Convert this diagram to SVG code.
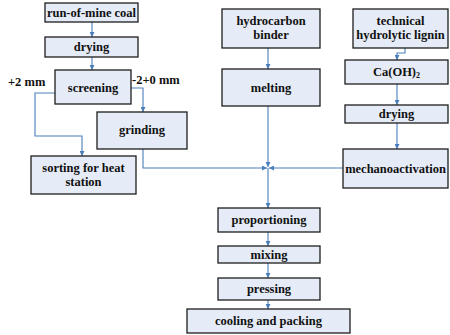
<svg xmlns="http://www.w3.org/2000/svg" width="450" height="335" viewBox="0 0 450 335">
  <defs>
    <marker id="arr" viewBox="0 0 6 6" refX="6" refY="3" markerWidth="5" markerHeight="5" orient="auto" markerUnits="userSpaceOnUse">
      <path d="M0,0 L6,3 L0,6 Z" fill="#4a7ebb"/>
    </marker>
  </defs>
  <style>
    .box { fill: #e6ecf7; stroke: #1e1e1e; stroke-width: 1.3; }
    text { font-family: 'Liberation Serif', 'DejaVu Serif', serif; font-weight: bold; font-size: 12.5px; fill: #111; dominant-baseline: central; }
    .t { text-anchor: middle; }
    .c { fill: none; stroke: #4a7ebb; stroke-width: 1.1; }
  </style>
  <rect width="450" height="335" fill="#ffffff"/>

  <g id="connectors">
    <path class="c" d="M92,22 V37" marker-end="url(#arr)"/>
    <path class="c" d="M92,57 V70" marker-end="url(#arr)"/>
    <path class="c" d="M131,88 H143 V112" marker-end="url(#arr)"/>
    <path class="c" d="M55,93 H35 V136 H82 V156" marker-end="url(#arr)"/>
    <path class="c" d="M143,149 V168 H267" marker-end="url(#arr)"/>
    <path class="c" d="M268,48 V69" marker-end="url(#arr)"/>
    <path class="c" d="M268,106 V167" marker-end="url(#arr)"/>
    <path class="c" d="M343,168 H269" marker-end="url(#arr)"/>
    <path class="c" d="M268,168 V208" marker-end="url(#arr)"/>
    <path class="c" d="M405,48 V53 H397 V60" marker-end="url(#arr)"/>
    <path class="c" d="M397,84 V105" marker-end="url(#arr)"/>
    <path class="c" d="M397,123 V149" marker-end="url(#arr)"/>
    <path class="c" d="M268,232 V246" marker-end="url(#arr)"/>
    <path class="c" d="M268,263 V278" marker-end="url(#arr)"/>
    <path class="c" d="M268,300 V309" marker-end="url(#arr)"/>
  </g>

  <g id="run-of-mine-coal">
    <rect class="box" x="45" y="3" width="93" height="19"/>
    <text class="t" x="91.5" y="13">run-of-mine coal</text>
  </g>
  <g id="drying-coal">
    <rect class="box" x="45" y="37" width="93" height="20"/>
    <text class="t" x="91.5" y="47">drying</text>
  </g>
  <g id="screening">
    <rect class="box" x="55" y="70" width="76" height="34"/>
    <text class="t" x="93" y="88">screening</text>
  </g>
  <g id="grinding">
    <rect class="box" x="97" y="112" width="90" height="37"/>
    <text class="t" x="142" y="130">grinding</text>
  </g>
  <g id="sorting">
    <rect class="box" x="31" y="156" width="105" height="38"/>
    <text class="t" x="83.5" y="168">sorting for heat</text>
    <text class="t" x="83.5" y="182">station</text>
  </g>
  <g id="hydrocarbon-binder">
    <rect class="box" x="222" y="9" width="98" height="39"/>
    <text class="t" x="271" y="21">hydrocarbon</text>
    <text class="t" x="271" y="35">binder</text>
  </g>
  <g id="melting">
    <rect class="box" x="222" y="69" width="98" height="37"/>
    <text class="t" x="271" y="88">melting</text>
  </g>
  <g id="lignin">
    <rect class="box" x="353" y="9" width="95" height="39"/>
    <text class="t" x="400.5" y="21">technical</text>
    <text class="t" x="400.5" y="35">hydrolytic lignin</text>
  </g>
  <g id="caoh2">
    <rect class="box" x="345" y="60" width="103" height="24"/>
    <text class="t" x="396.5" y="72">Ca(OH)<tspan font-size="8" dy="3">2</tspan></text>
  </g>
  <g id="drying-lignin">
    <rect class="box" x="345" y="105" width="103" height="18"/>
    <text class="t" x="396.5" y="114">drying</text>
  </g>
  <g id="mechanoactivation">
    <rect class="box" x="343" y="149" width="105" height="39"/>
    <text class="t" x="395.5" y="169">mechanoactivation</text>
  </g>
  <g id="proportioning">
    <rect class="box" x="218" y="208" width="102" height="24"/>
    <text class="t" x="269" y="220">proportioning</text>
  </g>
  <g id="mixing">
    <rect class="box" x="218" y="246" width="102" height="17"/>
    <text class="t" x="269" y="254.5">mixing</text>
  </g>
  <g id="pressing">
    <rect class="box" x="218" y="278" width="102" height="22"/>
    <text class="t" x="269" y="289">pressing</text>
  </g>
  <g id="cooling-packing">
    <rect class="box" x="187" y="309" width="163" height="24"/>
    <text class="t" x="268.5" y="321">cooling and packing</text>
  </g>

  <g id="labels">
    <text x="8" y="82">+2 mm</text>
    <text x="132" y="80">-2+0 mm</text>
  </g>
</svg>
